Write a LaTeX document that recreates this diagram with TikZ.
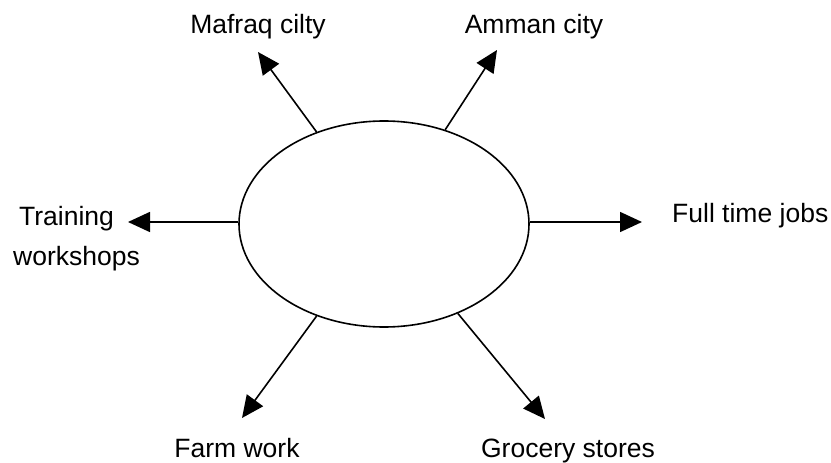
\documentclass[tikz,border=0pt]{standalone}
\usepackage{fontspec}
\setmainfont{Liberation Sans}
\usetikzlibrary{arrows.meta,shapes.geometric}

\tikzset{
    outarrow/.style={line width=1.6pt,-{Triangle[length=22pt,width=20pt]}},
    placelabel/.style={font=\fontsize{26.5}{40}\selectfont,inner sep=0pt}
}

\begin{document}
\begin{tikzpicture}[x=1pt,y=-1pt]
    % Background
    \useasboundingbox (0,0) rectangle (831,463);

    % Central ellipse
    \node[ellipse,draw,line width=1.6pt,minimum width=290pt,minimum height=206pt] (hub) at (384,224) {};

    % Arrow tips
    \coordinate (mafraqtip) at (258,52);
    \coordinate (ammantip) at (497,50);
    \coordinate (trainingtip) at (128,222);
    \coordinate (fulltip) at (642,222);
    \coordinate (farmtip) at (242,418);
    \coordinate (grocerytip) at (545,419);

    % Arrows
    \draw[outarrow] (hub) -- (mafraqtip);
    \draw[outarrow] (hub) -- (ammantip);
    \draw[outarrow] (hub.west |- trainingtip) -- (trainingtip);
    \draw[outarrow] (hub.east |- fulltip) -- (fulltip);
    \draw[outarrow] (hub) -- (farmtip);
    \draw[outarrow] (hub) -- (grocerytip);

    % Labels
    \node[placelabel,anchor=base] (mafraq) at (258,33) {Mafraq cilty};
    \node[placelabel,anchor=base] (amman) at (534,33) {Amman city};
    \node[placelabel,anchor=base west,align=left] (training) at (13,265) {\hspace*{6pt}Training\\workshops};
    \node[placelabel,anchor=base west] (fulltime) at (672,222) {Full time jobs};
    \node[placelabel,anchor=base] (farm) at (237,457) {Farm work};
    \node[placelabel,anchor=base] (grocery) at (568,457) {Grocery stores};
\end{tikzpicture}
\end{document}
